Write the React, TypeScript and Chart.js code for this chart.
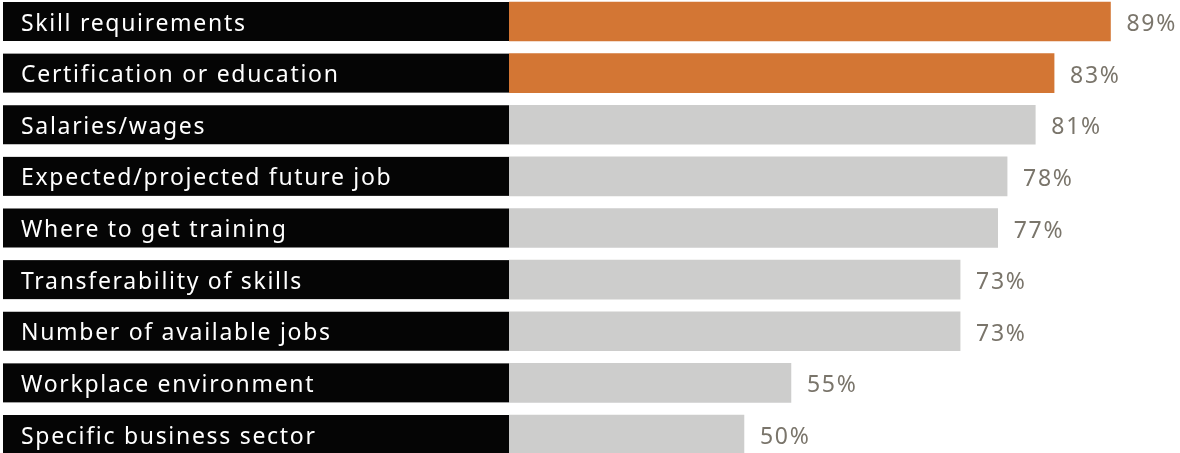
import React, { useEffect, useRef } from "react";
import { Chart, registerables } from "chart.js";

Chart.register(...registerables);

const categories = [
  "Skill requirements",
  "Certification or education",
  "Salaries/wages",
  "Expected/projected future job",
  "Where to get training",
  "Transferability of skills",
  "Number of available jobs",
  "Workplace environment",
  "Specific business sector",
];
const values = [89, 83, 81, 78, 77, 73, 73, 55, 50];
const highlighted = [true, true, false, false, false, false, false, false, false];

const ORANGE = "#D37634";
const GRAY = "#CDCDCC";
const BLACK = "#050505";
const VALUE_GRAY = "#7A756B";
const FONT_FAMILY = "'Noto Sans', sans-serif";
const FONT_SIZE = 23;
const LETTER_SPACING = "1.7px";

const labelBoxes = {
  id: "labelBoxes",
  beforeDraw(chart: any) {
    const ctx = chart.ctx;
    // wide, airy lettering like the original typeface
    (ctx as any).letterSpacing = LETTER_SPACING;
    const meta = chart.getDatasetMeta(0);
    ctx.save();
    ctx.fillStyle = BLACK;
    meta.data.forEach((bar: any) => {
      const { y, height } = bar.getProps(["y", "height"], true);
      ctx.fillRect(3, y - height / 2, chart.chartArea.left - 3, height);
    });
    ctx.restore();
  },
};

const valueLabels = {
  id: "valueLabels",
  afterDatasetsDraw(chart: any) {
    const ctx = chart.ctx;
    const meta = chart.getDatasetMeta(0);
    ctx.save();
    ctx.fillStyle = VALUE_GRAY;
    ctx.font = `${FONT_SIZE}px ${FONT_FAMILY}`;
    ctx.textAlign = "left";
    ctx.textBaseline = "middle";
    meta.data.forEach((bar: any, i: number) => {
      const { x, y } = bar.getProps(["x", "y"], true);
      ctx.fillText(`${values[i]}%`, x + 16, y + 3);
    });
    ctx.restore();
  },
};

export default function App() {
  const canvasRef = useRef<HTMLCanvasElement | null>(null);

  useEffect(() => {
    if (!canvasRef.current) return;
    const chart = new Chart(canvasRef.current, {
      type: "bar",
      data: {
        labels: categories,
        datasets: [
          {
            data: values,
            backgroundColor: highlighted.map((h) => (h ? ORANGE : GRAY)),
            borderWidth: 0,
            barThickness: 39,
            clip: { left: 0, top: false, right: false, bottom: false },
          },
        ],
      },
      options: {
        indexAxis: "y",
        responsive: false,
        maintainAspectRatio: false,
        animation: false,
        layout: { padding: { left: 21, top: 21.5, bottom: 18.5, right: 0 } },
        plugins: { legend: { display: false }, tooltip: { enabled: false } },
        scales: {
          x: { type: "linear", min: 25, max: 96.4, display: false },
          y: {
            type: "category",
            offset: false,
            grid: { display: false },
            border: { display: false },
            ticks: {
              color: "#FFFFFF",
              crossAlign: "far",
              padding: 0,
              labelOffset: 2.5,
              font: { family: FONT_FAMILY, size: FONT_SIZE },
            },
            afterFit(scale: any) {
              scale.width = 488;
            },
          },
        },
      },
      plugins: [labelBoxes, valueLabels],
    });
    return () => chart.destroy();
  }, []);

  return (
    <div style={{ position: "absolute", left: 0, top: 0, width: 1180, height: 453, background: "#FFFFFF" }}>
      <canvas ref={canvasRef} width={1180} height={453} />
    </div>
  );
}
